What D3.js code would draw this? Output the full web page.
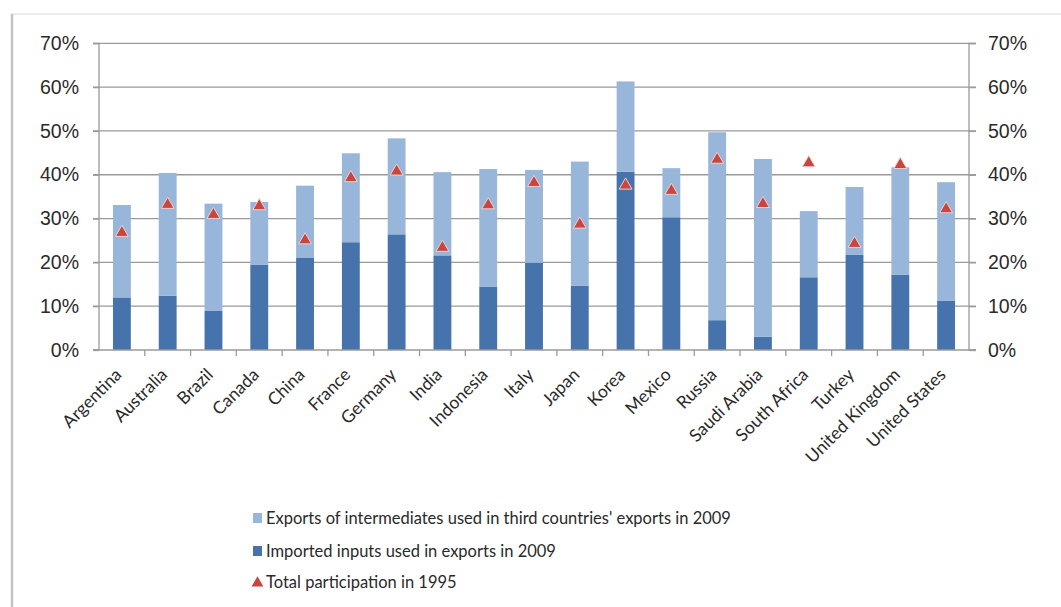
<!DOCTYPE html>
<html>
<head>
<meta charset="utf-8">
<script src="https://cdn.jsdelivr.net/npm/d3@7"></script>
<style>
  html, body { margin: 0; padding: 0; background: #fff; }
  svg { display: block; font-family: Lato, "Open Sans", sans-serif; }
</style>
</head>
<body>
<svg id="chart" width="1061" height="607"></svg>
<script>
// Countries along the category axis
const countries = ["Argentina", "Australia", "Brazil", "Canada", "China", "France", "Germany",
  "India", "Indonesia", "Italy", "Japan", "Korea", "Mexico", "Russia", "Saudi Arabia",
  "South Africa", "Turkey", "United Kingdom", "United States"];

// Imported inputs used in exports in 2009 (share of gross exports, %)
const importedInputs2009 = [12.0, 12.4, 8.9, 19.5, 21.0, 24.6, 26.4, 21.6, 14.4, 19.9,
  14.7, 40.7, 30.3, 6.8, 3.0, 16.6, 21.7, 17.2, 11.2];

// Exports of intermediates used in third countries' exports in 2009 (%)
const intermediateExports2009 = [21.1, 28.0, 24.5, 14.3, 16.5, 20.3, 21.9, 19.0, 26.9, 21.2,
  28.3, 20.6, 11.2, 42.9, 40.6, 15.1, 15.5, 24.5, 27.1];

// Total participation in 1995 (%)
const participation1995 = [27.0, 33.4, 31.1, 33.1, 25.3, 39.5, 41.0, 23.6, 33.3, 38.4,
  28.9, 37.8, 36.6, 43.7, 33.6, 42.9, 24.5, 42.5, 32.4];

// Percentage axis ticks
const yTicks = [0, 10, 20, 30, 40, 50, 60, 70];

const legendLabels = [
  "Exports of intermediates used in third countries' exports in 2009",
  "Imported inputs used in exports in 2009",
  "Total participation in 1995"
];

const colors = { light: "#98b5da", dark: "#4673ab", tri: "#c8463f" };

const svg = d3.select("#chart");

// card frame with a soft shadow on the left
svg.append("rect").attr("x", 12).attr("y", 14).attr("width", 1100).attr("height", 700)
  .attr("fill", "#fff").attr("stroke", "#e6e6e6").attr("stroke-width", 1.5);
svg.append("line").attr("x1", 12).attr("x2", 12).attr("y1", 14).attr("y2", 607)
  .attr("stroke", "#c4c4c4").attr("stroke-width", 2.5);

const plot = { left: 99, right: 969, top: 43.3, bottom: 350 };

const x = d3.scaleBand().domain(countries).range([plot.left, plot.right]).paddingInner(0.61).paddingOuter(0.305);
const band = d3.scaleBand().domain(countries).range([plot.left, plot.right]);
const y = d3.scaleLinear().domain([0, 70]).range([plot.bottom, plot.top]);

const gridColor = "#9a9a9a";
const textColor = "#2a2a2a";

// horizontal gridlines, extended over both tick marks
svg.append("g").selectAll("line").data(yTicks.slice(1)).join("line")
  .attr("x1", plot.left - 6).attr("x2", plot.right + 7)
  .attr("y1", d => y(d)).attr("y2", d => y(d))
  .attr("stroke", gridColor).attr("stroke-width", 1.3);

// stacked bars
const stacks = d3.stack().keys(["dark", "light"])(
  countries.map((c, i) => ({ country: c, dark: importedInputs2009[i], light: intermediateExports2009[i] }))
);
svg.append("g").selectAll("g").data(stacks).join("g")
  .attr("fill", d => colors[d.key])
  .selectAll("rect").data(d => d).join("rect")
  .attr("x", d => x(d.data.country)).attr("width", x.bandwidth())
  .attr("y", d => y(d[1])).attr("height", d => y(d[0]) - y(d[1]));

// left and right value axes
const leftAxis = d3.axisLeft(y).tickValues(yTicks).tickSize(6).tickPadding(14).tickFormat(d => d + "%");
const rightAxis = d3.axisRight(y).tickValues(yTicks).tickSize(7).tickPadding(12).tickFormat(d => d + "%");
function styleAxis(g) {
  g.select(".domain").attr("stroke", gridColor).attr("stroke-width", 1.3);
  g.selectAll(".tick line").attr("stroke", gridColor).attr("stroke-width", 1.3);
  g.selectAll(".tick text").attr("fill", textColor).style("font-size", "19.5px");
}
svg.append("g").attr("transform", `translate(${plot.left},0)`).call(leftAxis).call(styleAxis)
  .select(".domain").attr("d", `M-6,${plot.top}H0V${plot.bottom}H-6`);
svg.append("g").attr("transform", `translate(${plot.right},0)`).call(rightAxis).call(styleAxis)
  .select(".domain").attr("d", `M7,${plot.top}H0V${plot.bottom}H7`);

// category axis
const xAxis = svg.append("g").attr("transform", `translate(0,${plot.bottom})`);
xAxis.append("line").attr("x1", plot.left - 6).attr("x2", plot.right + 7)
  .attr("stroke", gridColor).attr("stroke-width", 1.3);
xAxis.selectAll("line.tk").data(countries.slice(1)).join("line").attr("class", "tk")
  .attr("x1", d => band(d)).attr("x2", d => band(d)).attr("y1", 0).attr("y2", 6)
  .attr("stroke", gridColor).attr("stroke-width", 1.3);
xAxis.selectAll("text").data(countries).join("text")
  .attr("transform", d => `translate(${band(d) + band.bandwidth() / 2 - 8},17) rotate(-45)`)
  .attr("text-anchor", "end").attr("dy", "0.71em")
  .attr("fill", textColor).style("font-size", "17.5px")
  .text(d => d);

// 1995 markers
const tri = d3.symbol().type(d3.symbolTriangle).size(72);
svg.append("g").selectAll("path").data(participation1995).join("path")
  .attr("d", tri)
  .attr("transform", (d, i) => `translate(${band(countries[i]) + band.bandwidth() / 2},${y(d) + 1})`)
  .attr("fill", colors.tri).attr("stroke", "#f1d0cc").attr("stroke-width", 1);

// legend
const legend = svg.append("g").attr("transform", "translate(253,0)");
const rows = [518, 551, 582];
legend.append("rect").attr("x", 0).attr("y", rows[0] - 5).attr("width", 9).attr("height", 10).attr("fill", colors.light);
legend.append("rect").attr("x", 0).attr("y", rows[1] - 5).attr("width", 9).attr("height", 10).attr("fill", colors.dark);
legend.append("path").attr("d", d3.symbol().type(d3.symbolTriangle).size(60))
  .attr("transform", `translate(4.5,${rows[2] + 1})`).attr("fill", colors.tri);
legend.selectAll("text").data(legendLabels).join("text")
  .attr("x", 13).attr("y", (d, i) => rows[i]).attr("dy", "0.35em")
  .attr("fill", textColor).style("font-size", "16.5px")
  .text(d => d);
</script>
</body>
</html>
